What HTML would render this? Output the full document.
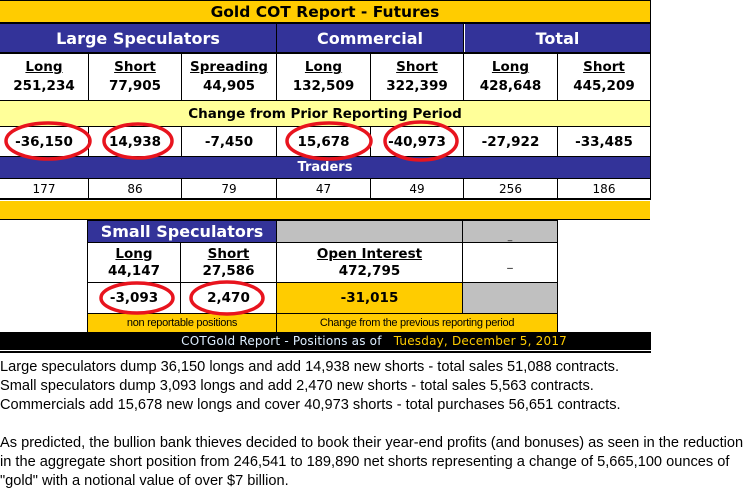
<!DOCTYPE html>
<html><head><meta charset="utf-8">
<style>
body{margin:0;width:754px;height:502px;background:#fff;position:relative;overflow:hidden;font-family:"DejaVu Sans","Liberation Sans",sans-serif;}
.c{position:absolute;box-sizing:border-box;display:flex;align-items:center;justify-content:center;text-align:center;color:#000;}
.bk{position:absolute;background:#000;}
.g{background:#ffcc00}.b{background:#333399;color:#fff;font-weight:bold;font-size:16px}.w{background:#fff}.ly{background:#ffff99}.gr{background:#c0c0c0}
.v{flex-direction:column;font-weight:bold;font-size:13.5px;line-height:19px}
.v u{display:block}
.n{font-weight:bold;font-size:13.5px}
.t{font-size:12px}
.f{font-family:"Liberation Sans",sans-serif;font-size:11px;letter-spacing:-0.3px}
.p{position:absolute;left:0;font-family:"Liberation Sans",sans-serif;font-size:14.6px;white-space:nowrap;color:#000}
</style></head><body>
<div class="bk" style="left:0;top:0;width:651px;height:200px"></div>
<div class="c g" style="left:0;top:1px;width:650px;height:21px;font-weight:bold;font-size:15.5px">Gold COT Report - Futures</div>
<div class="c b" style="left:0;top:24px;width:276px;height:28px">Large Speculators</div>
<div class="c b" style="left:277px;top:24px;width:186px;height:28px">Commercial</div>
<div class="c b" style="left:464px;top:24px;width:186px;height:28px;border-left:1px solid #fff">Total</div>

<div class="c w v" style="left:0;top:54px;width:88px;height:46px"><u>Long</u>251,234</div>
<div class="c w v" style="left:89px;top:54px;width:92px;height:46px"><u>Short</u>77,905</div>
<div class="c w v" style="left:182px;top:54px;width:94px;height:46px"><u>Spreading</u>44,905</div>
<div class="c w v" style="left:277px;top:54px;width:93px;height:46px"><u>Long</u>132,509</div>
<div class="c w v" style="left:371px;top:54px;width:92px;height:46px"><u>Short</u>322,399</div>
<div class="c w v" style="left:464px;top:54px;width:93px;height:46px"><u>Long</u>428,648</div>
<div class="c w v" style="left:558px;top:54px;width:92px;height:46px"><u>Short</u>445,209</div>

<div class="c ly" style="left:0;top:101px;width:650px;height:25px;font-weight:bold;font-size:13.5px">Change from Prior Reporting Period</div>
<div class="c w n" style="left:0;top:127px;width:88px;height:29px">-36,150</div>
<div class="c w n" style="left:89px;top:127px;width:92px;height:29px">14,938</div>
<div class="c w n" style="left:182px;top:127px;width:94px;height:29px">-7,450</div>
<div class="c w n" style="left:277px;top:127px;width:93px;height:29px">15,678</div>
<div class="c w n" style="left:371px;top:127px;width:92px;height:29px">-40,973</div>
<div class="c w n" style="left:464px;top:127px;width:93px;height:29px">-27,922</div>
<div class="c w n" style="left:558px;top:127px;width:92px;height:29px">-33,485</div>

<div class="c b" style="left:0;top:157px;width:650px;height:21px;font-size:13px">Traders</div>
<div class="c w t" style="left:0;top:179px;width:88px;height:19px">177</div>
<div class="c w t" style="left:89px;top:179px;width:92px;height:19px">86</div>
<div class="c w t" style="left:182px;top:179px;width:94px;height:19px">79</div>
<div class="c w t" style="left:277px;top:179px;width:93px;height:19px">47</div>
<div class="c w t" style="left:371px;top:179px;width:92px;height:19px">49</div>
<div class="c w t" style="left:464px;top:179px;width:93px;height:19px">256</div>
<div class="c w t" style="left:558px;top:179px;width:92px;height:19px">186</div>

<div class="c g" style="left:0;top:201px;width:650px;height:19px;border-bottom:1px solid #000"></div>

<div class="bk" style="left:87px;top:220px;width:471px;height:113px"></div>
<div class="c b" style="left:88px;top:221px;width:188px;height:21px">Small Speculators</div>
<div class="c gr" style="left:277px;top:221px;width:185px;height:21px"></div>
<div class="c gr" style="left:463px;top:221px;width:94px;height:21px;font-size:9px;align-items:flex-end">_</div>
<div class="c w v" style="left:88px;top:243px;width:92px;height:39px;line-height:17px"><u>Long</u>44,147</div>
<div class="c w v" style="left:181px;top:243px;width:95px;height:39px;line-height:17px"><u>Short</u>27,586</div>
<div class="c w v" style="left:277px;top:243px;width:185px;height:39px;line-height:17px"><u>Open Interest</u>472,795</div>
<div class="c w" style="left:463px;top:243px;width:94px;height:39px;font-size:11px">_</div>
<div class="c w n" style="left:88px;top:283px;width:92px;height:30px">-3,093</div>
<div class="c w n" style="left:181px;top:283px;width:95px;height:30px">2,470</div>
<div class="c g n" style="left:277px;top:283px;width:185px;height:30px">-31,015</div>
<div class="c gr" style="left:463px;top:283px;width:94px;height:30px"></div>
<div class="c g f" style="left:88px;top:314px;width:188px;height:18px">non reportable positions</div>
<div class="c g f" style="left:277px;top:314px;width:280px;height:18px">Change from the previous reporting period</div>

<div class="c" style="left:0;top:332px;width:651px;height:18px;background:#000;color:#ddeeff;font-family:'DejaVu Sans',sans-serif;font-size:12px;justify-content:flex-end;padding-right:84px;letter-spacing:0.2px">COTGold Report - Positions as of&nbsp;&nbsp;&nbsp;<span style="color:#ffcc00">Tuesday, December 5, 2017</span></div>
<div class="bk" style="left:0;top:351px;width:651px;height:2px"></div>

<svg style="position:absolute;left:0;top:0" width="754" height="502">
<g fill="none" stroke="#e8141e" stroke-width="3.5">
<ellipse cx="48" cy="141" rx="42" ry="18"/>
<ellipse cx="138" cy="141" rx="34" ry="17"/>
<ellipse cx="329" cy="141" rx="42" ry="18"/>
<ellipse cx="421" cy="141" rx="36" ry="19"/>
<ellipse cx="137" cy="298" rx="36" ry="15"/>
<ellipse cx="227" cy="298" rx="36" ry="16"/>
</g></svg>

<div class="p" style="top:359px">Large speculators dump 36,150 longs and add 14,938 new shorts - total sales 51,088 contracts.</div>
<div class="p" style="top:378px">Small speculators dump 3,093 longs and add 2,470 new shorts - total sales 5,563 contracts.</div>
<div class="p" style="top:397px">Commercials add 15,678 new longs and cover 40,973 shorts - total purchases 56,651 contracts.</div>
<div class="p" style="top:435px">As predicted, the bullion bank thieves decided to book their year-end profits (and bonuses) as seen in the reduction</div>
<div class="p" style="top:454px">in the aggregate short position from 246,541 to 189,890 net shorts representing a change of 5,665,100 ounces of</div>
<div class="p" style="top:473px">"gold" with a notional value of over $7 billion.</div>
</body></html>
